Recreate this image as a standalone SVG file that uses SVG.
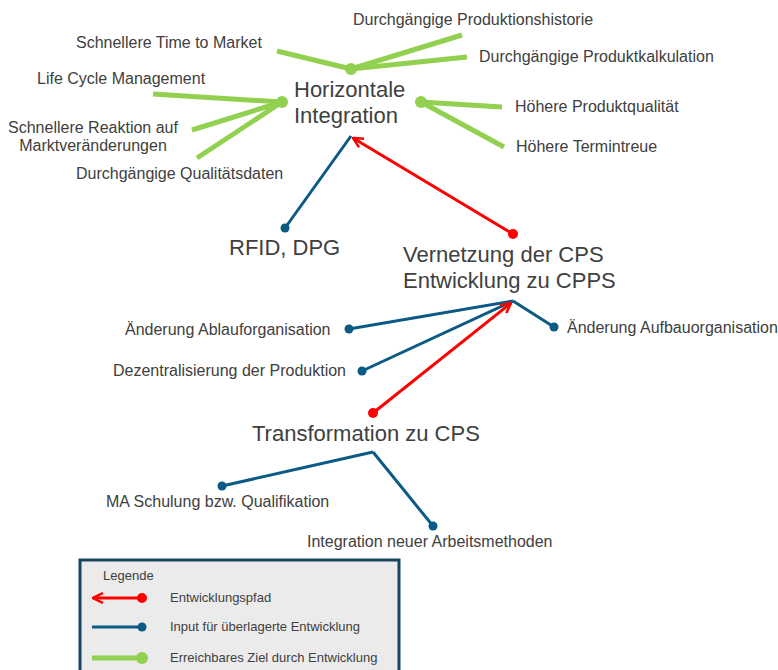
<svg xmlns="http://www.w3.org/2000/svg" width="778" height="670" viewBox="0 0 778 670">
<defs>
<style>
.t{font-family:"Liberation Sans",Arial,sans-serif;fill:#404040}
.s{font-size:16px}
.b{font-size:22px}
.l{font-size:13px}
.g{stroke:#92d050;stroke-width:5;fill:none;stroke-linecap:butt}
.bl{stroke:#0a5a84;stroke-width:3;fill:none}
.r{stroke:#ff0000;stroke-width:3;fill:none}
.gd{fill:#92d050}
.bd{fill:#0a5a84}
.rd{fill:#ff0000}
</style>
<marker id="arr" viewBox="0 0 12 12" refX="11" refY="6" markerWidth="12" markerHeight="12" markerUnits="userSpaceOnUse" orient="auto">
<path d="M1,1 L11,6 L1,11" fill="none" stroke="#ff0000" stroke-width="2.5"/>
</marker>
</defs>
<rect width="778" height="670" fill="#ffffff"/>

<g id="connectors">
<!-- green goals -->
<line class="g" x1="351" y1="69" x2="277" y2="51"/>
<line class="g" x1="351" y1="69" x2="462" y2="35"/>
<line class="g" x1="351" y1="69" x2="467" y2="57"/>
<line class="g" x1="282" y1="102" x2="153" y2="94"/>
<line class="g" x1="282" y1="102" x2="192" y2="130"/>
<line class="g" x1="282" y1="102" x2="197" y2="158"/>
<line class="g" x1="421" y1="102" x2="502" y2="107"/>
<line class="g" x1="421" y1="102" x2="504" y2="147"/>
<circle class="gd" cx="351" cy="69" r="6"/>
<circle class="gd" cx="282" cy="102" r="6"/>
<circle class="gd" cx="421" cy="102" r="6"/>
<!-- blue inputs -->
<line class="bl" x1="285" y1="228" x2="351" y2="136"/>
<line class="bl" x1="513" y1="301" x2="349" y2="329"/>
<line class="bl" x1="513" y1="301" x2="362" y2="371"/>
<line class="bl" x1="513" y1="301" x2="554" y2="327"/>
<line class="bl" x1="373" y1="452" x2="222" y2="486"/>
<line class="bl" x1="373" y1="452" x2="433" y2="526"/>
<circle class="bd" cx="285" cy="228" r="4.5"/>
<circle class="bd" cx="349" cy="329" r="4.5"/>
<circle class="bd" cx="362" cy="371" r="4.5"/>
<circle class="bd" cx="554" cy="327" r="4.5"/>
<circle class="bd" cx="222" cy="486" r="4.5"/>
<circle class="bd" cx="433" cy="526" r="4.5"/>
<!-- red development path -->
<line class="r" x1="513" y1="234" x2="353" y2="138" marker-end="url(#arr)"/>
<line class="r" x1="373" y1="413" x2="511" y2="303" marker-end="url(#arr)"/>
<circle class="rd" cx="513" cy="234" r="5"/>
<circle class="rd" cx="373" cy="413" r="5"/>
</g>

<g id="horizontale">
<text class="t b" x="294" y="97">Horizontale</text>
<text class="t b" x="294" y="123">Integration</text>
</g>
<g id="rfid"><text class="t b" x="229" y="255">RFID, DPG</text></g>
<g id="vernetzung">
<text class="t b" x="403" y="262">Vernetzung der CPS</text>
<text class="t b" x="403" y="288">Entwicklung zu CPPS</text>
</g>
<g id="transformation"><text class="t b" x="252" y="441">Transformation zu CPS</text></g>

<g id="goal-timetomarket"><text class="t s" x="76" y="48">Schnellere Time to Market</text></g>
<g id="goal-historie"><text class="t s" x="353" y="25">Durchgängige Produktionshistorie</text></g>
<g id="goal-kalkulation"><text class="t s" x="479" y="62">Durchgängige Produktkalkulation</text></g>
<g id="goal-lcm"><text class="t s" x="37" y="84">Life Cycle Management</text></g>
<g id="goal-reaktion">
<text class="t s" x="93" y="133" text-anchor="middle">Schnellere Reaktion auf</text>
<text class="t s" x="93" y="151" text-anchor="middle">Marktveränderungen</text>
</g>
<g id="goal-qualitaetsdaten"><text class="t s" x="76" y="179">Durchgängige Qualitätsdaten</text></g>
<g id="goal-produktqualitaet"><text class="t s" x="515" y="112">Höhere Produktqualität</text></g>
<g id="goal-termintreue"><text class="t s" x="516" y="152">Höhere Termintreue</text></g>

<g id="input-ablauf"><text class="t s" x="125" y="335">Änderung Ablauforganisation</text></g>
<g id="input-dezentral"><text class="t s" x="113" y="376">Dezentralisierung der Produktion</text></g>
<g id="input-aufbau"><text class="t s" x="567" y="333">Änderung Aufbauorganisation</text></g>
<g id="input-ma"><text class="t s" x="106" y="507">MA Schulung bzw. Qualifikation</text></g>
<g id="input-methoden"><text class="t s" x="307" y="547">Integration neuer Arbeitsmethoden</text></g>

<g id="legend">
<rect x="80" y="560" width="319" height="120" fill="#ebebeb" stroke="#17455f" stroke-width="3"/>
<text class="t l" x="103" y="580">Legende</text>
<line class="r" x1="142" y1="598" x2="93" y2="598" marker-end="url(#arr)"/>
<circle class="rd" cx="142" cy="598" r="5"/>
<text class="t l" x="170" y="602">Entwicklungspfad</text>
<line class="bl" x1="92" y1="627" x2="142" y2="627"/>
<circle class="bd" cx="142" cy="627" r="4.5"/>
<text class="t l" x="170" y="631">Input für überlagerte Entwicklung</text>
<line class="g" x1="92" y1="658" x2="142" y2="658"/>
<circle class="gd" cx="142" cy="658" r="6"/>
<text class="t l" x="170" y="662">Erreichbares Ziel durch Entwicklung</text>
</g>
</svg>
